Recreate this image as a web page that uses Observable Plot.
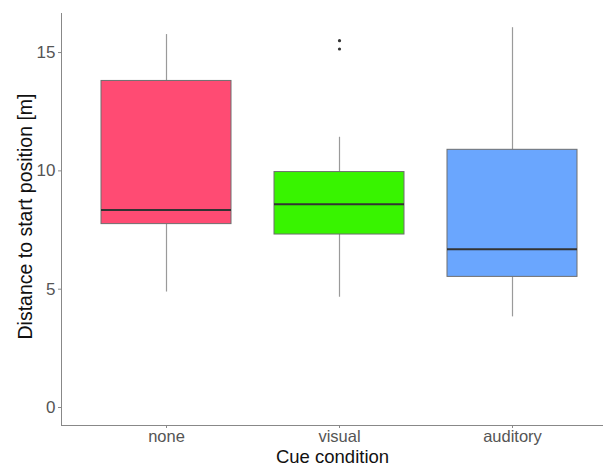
<!DOCTYPE html>
<html>
<head>
<meta charset="utf-8">
<script src="https://cdn.jsdelivr.net/npm/d3@7"></script>
<script src="https://cdn.jsdelivr.net/npm/@observablehq/plot@0.6"></script>
<style>
  html, body { margin: 0; padding: 0; background: #fff; overflow: hidden; }
</style>
</head>
<body>
<div id="chart"></div>
<script>
// Data (distance to start position, metres)
const categories = ["none", "visual", "auditory"];
const whiskerLow  = [4.88, 4.66, 3.83];
const q1          = [7.75, 7.31, 5.52];
const median      = [8.35, 8.59, 6.69];
const q3          = [13.8, 9.95, 10.89];
const whiskerHigh = [15.76, 11.42, 16.05];
const fills       = ["#FF4B73", "#38F400", "#6AA6FE"];
const outlierCat  = ["visual", "visual"];
const outlierVal  = [15.5, 15.15];
const yTicks = [0, 5, 10, 15];
const yDomain = [-0.76, 16.65];
const xTitle = "Cue condition";
const yTitle = "Distance to start position [m]";

const boxes = categories.map((c, i) => ({
  cat: c, lo: whiskerLow[i], q1: q1[i], med: median[i], q3: q3[i], hi: whiskerHigh[i], fill: fills[i]
}));
const outliers = outlierCat.map((c, i) => ({cat: c, v: outlierVal[i]}));

const font = "'Liberation Sans', Arial, sans-serif";

const chart = Plot.plot({
  width: 603,
  height: 465,
  marginLeft: 61,
  marginRight: 0,
  marginTop: 13,
  marginBottom: 40,
  style: {fontFamily: font, fontSize: "17px", background: "#fff"},
  x: {domain: categories, range: [61, 616], paddingInner: 0.25, paddingOuter: 0.225, label: null},
  y: {domain: yDomain, label: null},
  marks: [
    Plot.ruleX(boxes, {x: "cat", y1: "lo", y2: "q1", stroke: "#9a9a9a", strokeWidth: 1.2}),
    Plot.ruleX(boxes, {x: "cat", y1: "q3", y2: "hi", stroke: "#9a9a9a", strokeWidth: 1.2}),
    Plot.barY(boxes, {x: "cat", y1: "q1", y2: "q3", fill: "fill", stroke: "#6f6f6f", strokeWidth: 1}),
    Plot.tickY(boxes, {x: "cat", y: "med", stroke: "#333", strokeWidth: 2}),
    Plot.dot(outliers, {x: "cat", y: "v", r: 1.6, fill: "#333", stroke: null}),
    Plot.axisY({ticks: yTicks, tickSize: 3, tickPadding: 3, fontSize: 17, stroke: "#888", fill: "#555", label: null}),
    Plot.axisX({tickSize: 3, tickPadding: 2, fontSize: 16.5, stroke: "#888", fill: "#555", label: null}),
    Plot.frame({anchor: "left", stroke: "#888"}),
    Plot.frame({anchor: "bottom", stroke: "#888"}),
    Plot.text([xTitle], {text: d => d, frameAnchor: "bottom", lineAnchor: "bottom", dy: 37, fontSize: 18.5, fill: "#111"}),
    Plot.text([yTitle], {text: d => d, frameAnchor: "left", rotate: -90, dx: -36, dy: -3, lineAnchor: "middle", textAnchor: "middle", fontSize: 19.5, fill: "#111"})
  ]
});
document.getElementById("chart").appendChild(chart);
</script>
</body>
</html>
